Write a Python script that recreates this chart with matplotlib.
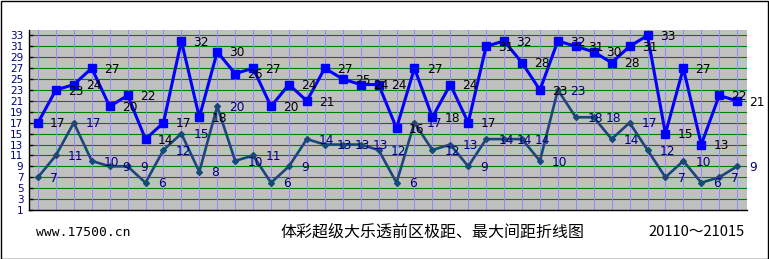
import matplotlib
matplotlib.use("Agg")
import matplotlib.pyplot as plt
from matplotlib.patches import Rectangle

# Data
periods = list(range(1, 41))
range_vals = [17, 23, 24, 27, 20, 22, 14, 17, 32, 18,
              30, 26, 27, 20, 24, 21, 27, 25, 24, 24,
              16, 27, 18, 24, 17, 31, 32, 28, 23, 32,
              31, 30, 28, 31, 33, 15, 27, 13, 22, 21]
gap_vals = [7, 11, 17, 10, 9, 9, 6, 12, 15, 8,
            20, 10, 11, 6, 9, 14, 13, 13, 13, 12,
            6, 17, 12, 13, 9, 14, 14, 14, 10, 23,
            18, 18, 14, 17, 12, 7, 10, 6, 7, 9]
yticks = list(range(1, 34, 2))
title_text = "体彩超级大乐透前区极距、最大间距折线图"
site_text = "www.17500.cn"
period_text = "20110～21015"

W, H = 769, 259
fig = plt.figure(figsize=(W / 100, H / 100), dpi=100)
fig.patch.set_facecolor("white")

ax_l, ax_r, ax_t, ax_b = 29, 747, 30, 210
ax = fig.add_axes([ax_l / W, 1 - ax_b / H, (ax_r - ax_l) / W, (ax_b - ax_t) / H])
ax.set_facecolor("#C0C0C0")
ax.set_xlim(0.5, 40.55)
ax.set_ylim(1, 34)

for y in yticks[1:]:
    ax.axhline(y, color="#008000", lw=0.8, zorder=1)
for x in periods:
    ax.axvline(x, color="#8C8CFF", lw=0.72, zorder=1)

ax.plot(periods, gap_vals, color="#184878", lw=1.9, marker="D", ms=3,
        zorder=3, clip_on=False)
ax.plot(periods, range_vals, color="#0000FF", lw=2.2, marker="s", ms=5.5,
        zorder=4, clip_on=False)

dx = 0.68
for x, v in zip(periods, range_vals):
    ax.text(x + dx, v - 0.2, str(v), color="black", fontsize=8.8,
            ha="left", va="center", family="DejaVu Sans", zorder=5)
for x, v in zip(periods, gap_vals):
    ax.text(x + dx, v - 0.2, str(v), color="#000080", fontsize=8.8,
            ha="left", va="center", family="DejaVu Sans", zorder=5)

ax.set_yticks(yticks)
ax.set_yticklabels([str(t) for t in yticks], color="#000080",
                   fontsize=7.5, family="DejaVu Sans")
ax.tick_params(axis="y", direction="in", length=3, width=1, color="black", pad=4)
ax.set_xticks([])
for s in ["top", "right"]:
    ax.spines[s].set_visible(False)
for s in ["left", "bottom"]:
    ax.spines[s].set_color("black")
    ax.spines[s].set_linewidth(1.0)

ty = 1 - 232 / H
fig.text(36 / W, ty, site_text, fontsize=9.4, family="DejaVu Sans Mono",
         ha="left", va="center", color="black")
fig.text(432 / W, ty, title_text, fontsize=11.5,
         family=["Noto Sans CJK SC", "DejaVu Sans"], ha="center", va="center",
         color="black")
fig.text(745 / W, ty, period_text, fontsize=10.5,
         family=["Noto Sans CJK SC", "DejaVu Sans"], ha="right", va="center",
         color="black")

fig.add_artist(Rectangle((0.5 / W, 0.5 / H), (W - 1.5) / W, (H - 1.5) / H,
                         transform=fig.transFigure, fill=False,
                         edgecolor="black", lw=1.0))

fig.savefig("out.png", dpi=100)
